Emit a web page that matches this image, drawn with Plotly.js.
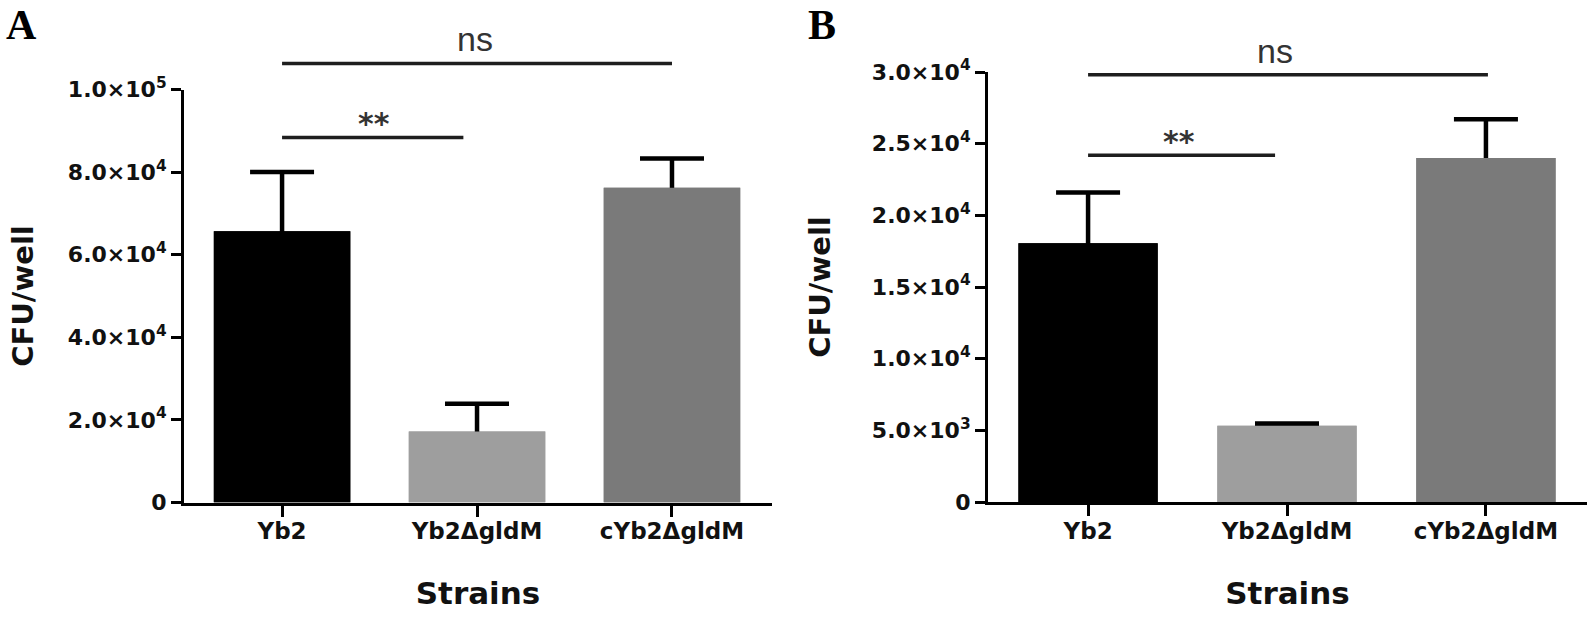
<!DOCTYPE html>
<html>
<head>
<meta charset="utf-8">
<script src="https://cdn.plot.ly/plotly-3.0.1.min.js"></script>
<style>html,body{margin:0;padding:0;background:#fff;}#chart{width:1595px;height:618px;}</style>
</head>
<body>
<div id="chart"></div>
<script>
// ---- data ----
const categories = ['Yb2', 'Yb2ΔgldM', 'cYb2ΔgldM'];
const barColors = ['#000000', '#9e9e9e', '#7a7a7a'];

const meanA = [65700, 17200, 76200];
const semA = [14300, 6700, 7100];
const tickValsA = [0, 20000, 40000, 60000, 80000, 100000];
const tickTextA = ['0', '2.0×10<sup>4</sup>', '4.0×10<sup>4</sup>', '6.0×10<sup>4</sup>', '8.0×10<sup>4</sup>', '1.0×10<sup>5</sup>'];

const meanB = [18050, 5320, 24000];
const semB = [3550, 150, 2700];
const tickValsB = [0, 5000, 10000, 15000, 20000, 25000, 30000];
const tickTextB = ['0', '5.0×10<sup>3</sup>', '1.0×10<sup>4</sup>', '1.5×10<sup>4</sup>', '2.0×10<sup>4</sup>', '2.5×10<sup>4</sup>', '3.0×10<sup>4</sup>'];

// significance brackets (category index start/end, height, label)
const sigLabels = ['ns', '**'];
const sigStartA = [0, 0];
const sigEndA = [2, 0.93];
const sigYA = [106300, 88400];
const sigTextXA = [0.99, 0.47];
const sigStartB = [0, 0];
const sigEndB = [2.01, 0.94];
const sigYB = [29800, 24200];
const sigTextXB = [0.94, 0.455];

// ---- drawing ----
const catIdx = categories.map((c, i) => i);
const tickFont = {family: 'DejaVu Sans', size: 22, color: '#111', weight: 'bold'};
const catFont = {family: 'DejaVu Sans', size: 23, color: '#111', weight: 'bold'};
const titleFont = {family: 'DejaVu Sans', size: 29, color: '#111', weight: 'bold'};
const xTitleFont = {family: 'DejaVu Sans', size: 31, color: '#111', weight: 'bold'};

// bars carrying the error bars (lower half of each error bar hidden by the cover bars)
function errTrace(means, sems, xa, ya) {
  return {
    type: 'bar', x: catIdx, y: means, xaxis: xa, yaxis: ya,
    marker: {color: barColors, line: {width: 0}},
    error_y: {type: 'data', array: sems, color: '#000', thickness: 4.5, width: 32},
    hoverinfo: 'skip'
  };
}
function coverTrace(means, xa, ya) {
  return {
    type: 'bar', x: catIdx, y: means, xaxis: xa, yaxis: ya,
    marker: {color: barColors, line: {width: 0}}, hoverinfo: 'skip'
  };
}
function sigTraces(starts, ends, ys, xa, ya) {
  return starts.map((s, i) => ({
    type: 'scatter', mode: 'lines', x: [s, ends[i]], y: [ys[i], ys[i]],
    xaxis: xa, yaxis: ya, cliponaxis: false,
    line: {color: '#1e1e1e', width: 3.5}, hoverinfo: 'skip'
  }));
}
function sigAnn(tx, ys, xa, ya) {
  return tx.map((x, i) => ({
    xref: xa, yref: ya, x: x, y: ys[i], text: sigLabels[i], showarrow: false,
    yanchor: 'middle', yshift: sigLabels[i] === 'ns' ? 24 : 14,
    font: sigLabels[i] === 'ns'
      ? {family: 'Liberation Sans Narrow, Liberation Sans', size: 34, color: '#333'}
      : {family: 'DejaVu Sans', size: 30, color: '#333', weight: 'bold'}
  }));
}

const data = [
  errTrace(meanA, semA, 'x', 'y'),
  coverTrace(meanA, 'x', 'y'),
  errTrace(meanB, semB, 'x2', 'y2'),
  coverTrace(meanB, 'x2', 'y2'),
  ...sigTraces(sigStartA, sigEndA, sigYA, 'x3', 'y3'),
  ...sigTraces(sigStartB, sigEndB, sigYB, 'x4', 'y4')
];

function xAxis(domain, range, anchor) {
  return {
    domain: domain, range: range, anchor: anchor, showgrid: false, zeroline: false,
    showline: true, linecolor: '#000', linewidth: 3,
    ticks: 'outside', ticklen: 11, tickwidth: 3, tickcolor: '#000',
    tickmode: 'array', tickvals: catIdx, ticktext: categories,
    tickfont: catFont, ticklabelstandoff: -5, fixedrange: true,
    title: {text: 'Strains', font: xTitleFont, standoff: 40}
  };
}
function yAxis(domain, range, tv, tt, anchor, standoff) {
  return {
    domain: domain, range: range, anchor: anchor, showgrid: false, zeroline: false,
    showline: true, linecolor: '#000', linewidth: 3,
    ticks: 'outside', ticklen: 10, tickwidth: 3, tickcolor: '#000',
    tickmode: 'array', tickvals: tv, ticktext: tt, tickfont: tickFont, fixedrange: true,
    title: {text: 'CFU/well', font: titleFont, standoff: standoff}
  };
}
function hiddenAxis(domain, range, anchor) {
  return {domain: domain, range: range, anchor: anchor, visible: false, fixedrange: true};
}

// geometry (pixels of the 1595x618 page)
const W = 1595, H = 618;
const A = {l: 184, r: 772, top: 89.5, bot: 502.5, ymax: 100000};
const B = {l: 988, r: 1587, top: 72, bot: 502, ymax: 30000};
const extTop = 8; // hidden overlay axes reach up here so brackets above the axes are not clipped
function extRange(p) { return p.ymax * (p.bot - extTop) / (p.bot - p.top); }

const layout = {
  width: W, height: H,
  margin: {l: 0, r: 0, t: 0, b: 0},
  paper_bgcolor: '#fff', plot_bgcolor: 'rgba(0,0,0,0)',
  showlegend: false, hovermode: false, bargap: 0.30, barmode: 'overlay',
  xaxis: xAxis([A.l / W, A.r / W], [-0.503, 2.513], 'y'),
  yaxis: yAxis([1 - A.bot / H, 1 - A.top / H], [0, A.ymax], tickValsA, tickTextA, 'x', 26),
  xaxis2: xAxis([B.l / W, B.r / W], [-0.503, 2.508], 'y2'),
  yaxis2: yAxis([1 - B.bot / H, 1 - B.top / H], [0, B.ymax], tickValsB, tickTextB, 'x2', 33),
  xaxis3: hiddenAxis([A.l / W, A.r / W], [-0.503, 2.513], 'y3'),
  yaxis3: hiddenAxis([1 - A.bot / H, 1 - extTop / H], [0, extRange(A)], 'x3'),
  xaxis4: hiddenAxis([B.l / W, B.r / W], [-0.503, 2.508], 'y4'),
  yaxis4: hiddenAxis([1 - B.bot / H, 1 - extTop / H], [0, extRange(B)], 'x4'),
  annotations: [
    ...sigAnn(sigTextXA, sigYA, 'x3', 'y3'),
    ...sigAnn(sigTextXB, sigYB, 'x4', 'y4'),
    {xref: 'paper', yref: 'paper', x: 4 / W, y: 1, xanchor: 'left', yanchor: 'top',
     text: 'A', showarrow: false, font: {family: 'Liberation Serif', size: 42, color: '#000', weight: 'bold'}},
    {xref: 'paper', yref: 'paper', x: 806 / W, y: 1, xanchor: 'left', yanchor: 'top',
     text: 'B', showarrow: false, font: {family: 'Liberation Serif', size: 42, color: '#000', weight: 'bold'}}
  ]
};

Plotly.newPlot('chart', data, layout, {staticPlot: true, displayModeBar: false});
</script>
</body>
</html>
